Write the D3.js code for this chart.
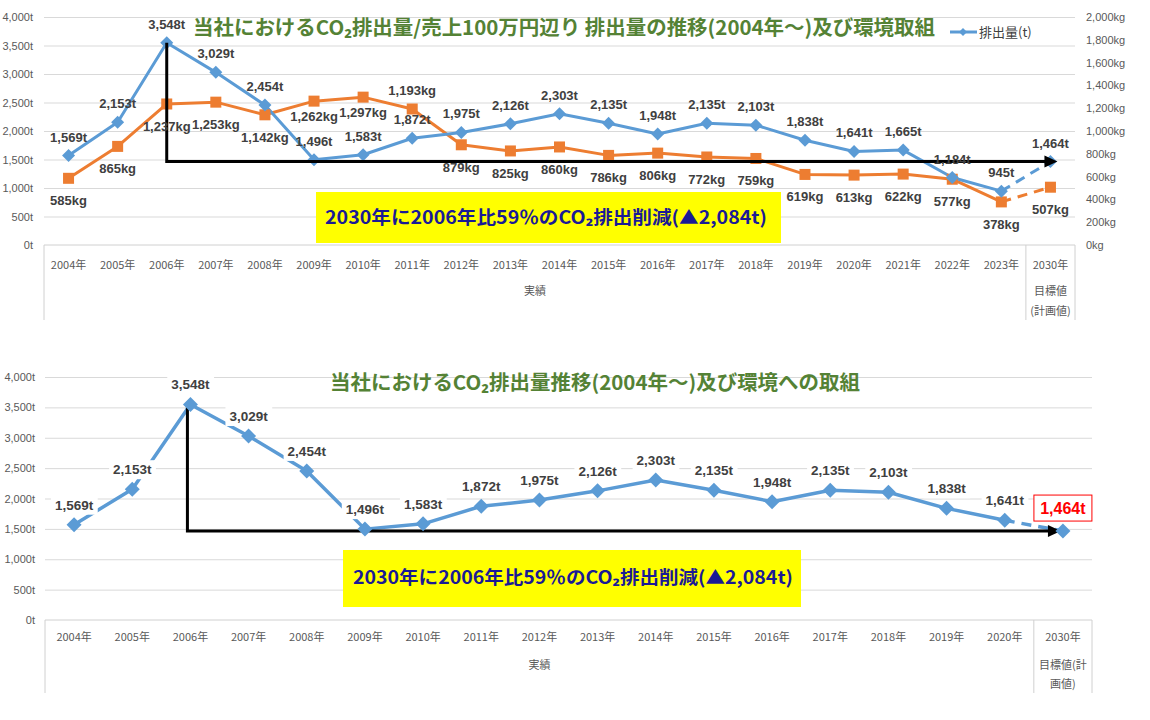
<!DOCTYPE html>
<html><head><meta charset="utf-8">
<script src="https://cdn.jsdelivr.net/npm/d3@7"></script>
<style>body{margin:0;background:#fff}svg{display:block}</style>
</head><body>
<svg id="c" width="1150" height="720"></svg>
<script>
// ---------- DATA ----------
const years1 = ["2004年","2005年","2006年","2007年","2008年","2009年","2010年","2011年","2012年","2013年","2014年","2015年","2016年","2017年","2018年","2019年","2020年","2021年","2022年","2023年","2030年"];
const emissions1 = [1569,2153,3548,3029,2454,1496,1583,1872,1975,2126,2303,2135,1948,2135,2103,1838,1641,1665,1184,945,1464];
const intensity1 = [585,865,1237,1253,1142,1262,1297,1193,879,825,860,786,806,772,759,619,613,622,577,378,507];
const years2 = ["2004年","2005年","2006年","2007年","2008年","2009年","2010年","2011年","2012年","2013年","2014年","2015年","2016年","2017年","2018年","2019年","2020年","2030年"];
const emissions2 = [1569,2153,3548,3029,2454,1496,1583,1872,1975,2126,2303,2135,1948,2135,2103,1838,1641,1464];
const ticksT = [0,500,1000,1500,2000,2500,3000,3500,4000];
const ticksKg = [0,200,400,600,800,1000,1200,1400,1600,1800,2000];
const title1 = "当社におけるCO₂排出量/売上100万円辺り 排出量の推移(2004年～)及び環境取組";
const title2 = "当社におけるCO₂排出量推移(2004年～)及び環境への取組";
const goalText = "2030年に2006年比59％のCO₂排出削減(▲2,084t)";
const legendText = "排出量(t)";
const groupActual = "実績";
const groupTarget1 = ["目標値","(計画値)"];
const groupTarget2 = ["目標値(計","画値)"];
const baseYearIdx = 2; // 2006年

// ---------- STYLE ----------
const JP = "'Noto Sans CJK JP','Noto Sans',sans-serif";
const NUM = "'Liberation Sans',Arial,sans-serif";
const BLUE = "#5b9bd5", ORANGE = "#ed7d31", GREEN = "#548235", GRID = "#d9d9d9", AX = "#595959", LBL = "#404040";
const fmt = d3.format(",");
const svg = d3.select("#c");
const diamond = s => `M0,${-s}L${s},0L0,${s}L${-s},0Z`;

function grid(g, y, ticks, L, R) {
  g.append("g").attr("transform", `translate(${L},0)`)
    .call(d3.axisLeft(y).tickValues(ticks).tickSize(-(R - L)).tickFormat(""))
    .call(a => a.select(".domain").remove())
    .selectAll("line").attr("stroke", GRID).attr("stroke-width", 1);
}
function yLabels(g, axis, pos, fmtf, ticks) {
  g.append("g").attr("transform", `translate(${pos},0)`)
    .call(axis.tickValues(ticks).tickSize(0).tickPadding(0).tickFormat(fmtf))
    .call(a => a.select(".domain").remove())
    .selectAll("text").attr("fill", AX).style("font-family", NUM).style("font-size", "11px");
}
function xBox(g, x, cats, B, boxBottom, labelY, sepIdx) {
  const ax = g.append("g").attr("transform", `translate(0,${B})`)
    .call(d3.axisBottom(x).tickSize(0).tickPadding(labelY - B - 8));
  ax.select(".domain").remove();
  ax.selectAll("text").attr("fill", AX).style("font-family", JP).style("font-size", "11px");
  const L = x.range()[0], R = x.range()[1];
  const sep = x(cats[sepIdx]);
  g.append("line").attr("x1", L).attr("x2", R).attr("y1", B).attr("y2", B).attr("stroke", "#d0d0d0");
  [L, sep, R].forEach(xx => g.append("line").attr("x1", xx).attr("x2", xx).attr("y1", B).attr("y2", boxBottom).attr("stroke", "#d0d0d0"));
  return sep;
}
function series(g, x, y, vals, cats, color, width, dash) {
  const n = vals.length;
  const line = d3.line().x((d, i) => x(cats[i]) + x.bandwidth() / 2).y(d => y(d));
  const pts = vals.map((v, i) => [cats[i], v]);
  g.append("path").datum(vals.slice(0, n - 1)).attr("d", d3.line().x((d, i) => x(cats[i]) + x.bandwidth() / 2).y(d => y(d)))
    .attr("fill", "none").attr("stroke", color).attr("stroke-width", width).attr("stroke-linejoin", "round");
  g.append("path").datum([vals[n - 2], vals[n - 1]])
    .attr("d", d3.line().x((d, i) => x(cats[n - 2 + i]) + x.bandwidth() / 2).y(d => y(d)))
    .attr("fill", "none").attr("stroke", color).attr("stroke-width", width).attr("stroke-dasharray", dash);
}
function arrow(g, x1, y1, y2, x2) {
  g.append("path").attr("d", `M${x1},${y1}V${y2}H${x2 - 11}`).attr("fill", "none").attr("stroke", "#000").attr("stroke-width", 3);
  g.append("path").attr("d", `M${x2},${y2}L${x2 - 13},${y2 - 6}L${x2 - 13},${y2 + 6}Z`).attr("fill", "#000");
}
function goalBox(g, x0, y0, x1, y1, tx, ty, tw) {
  g.append("rect").attr("x", x0).attr("y", y0).attr("width", x1 - x0).attr("height", y1 - y0).attr("fill", "#ffff00");
  g.append("text").attr("x", tx).attr("y", ty).attr("text-anchor", "middle")
    .attr("textLength", tw).attr("lengthAdjust", "spacingAndGlyphs")
    .style("font-family", JP).style("font-weight", "bold").style("font-size", "18px").attr("fill", "#1a1a96").text(goalText);
}

// ---------- TOP CHART ----------
(function () {
  const L = 44, R = 1075, T = 17, B = 245;
  const g = svg.append("g");
  const x = d3.scaleBand().domain(years1).range([L, R]);
  const y = d3.scaleLinear().domain([0, 4000]).range([B, T]);
  const y2 = d3.scaleLinear().domain([0, 2000]).range([B, T]);
  const cx = i => x(years1[i]) + x.bandwidth() / 2;
  grid(g, y, ticksT.filter(d => d > 0), L, R);
  yLabels(g, d3.axisLeft(y), 33, d => fmt(d) + "t", ticksT);
  yLabels(g, d3.axisRight(y2), 1086, d => fmt(d) + "kg", ticksKg);
  const sep = xBox(g, x, years1, B, 320, 269, years1.length - 1);
  g.append("text").attr("x", (L + sep) / 2).attr("y", 295).attr("text-anchor", "middle").attr("fill", AX)
    .style("font-family", JP).style("font-size", "11px").text(groupActual);
  groupTarget1.forEach((t, k) => g.append("text").attr("x", (sep + R) / 2).attr("y", 295 + k * 20).attr("text-anchor", "middle")
    .attr("fill", AX).style("font-family", JP).style("font-size", "11px").text(t));

  // title + legend
  g.append("text").attr("x", 564).attr("y", 35).attr("text-anchor", "middle").attr("textLength", 742).attr("lengthAdjust", "spacingAndGlyphs")
    .style("font-family", JP).style("font-weight", "bold").style("font-size", "20px").attr("fill", GREEN).text(title1);
  g.append("line").attr("x1", 950).attr("x2", 977).attr("y1", 32).attr("y2", 32).attr("stroke", BLUE).attr("stroke-width", 3);
  g.append("path").attr("d", diamond(4)).attr("transform", "translate(963,32)").attr("fill", BLUE);
  g.append("text").attr("x", 979).attr("y", 37).attr("fill", LBL).style("font-family", JP).style("font-size", "13px").text(legendText);

  series(g, x, y2, intensity1, years1, ORANGE, 3, "10,7");
  series(g, x, y, emissions1, years1, BLUE, 3, "10,7");

  // markers
  intensity1.forEach((v, i) => g.append("rect").attr("x", cx(i) - 5.5).attr("y", y2(v) - 5.5).attr("width", 11).attr("height", 11).attr("fill", ORANGE));
  emissions1.forEach((v, i) => g.append("path").attr("d", diamond(6.5)).attr("transform", `translate(${cx(i)},${y(v)})`).attr("fill", BLUE));

  // arrow
  const n = emissions1.length;
  arrow(g, cx(baseYearIdx), y(emissions1[baseYearIdx]), y(emissions1[n - 1]), cx(n - 1) + 7);

  goalBox(g, 316, 192, 781, 243, 546, 224, 442);

  // labels
  const lab = (t, xx, yy) => g.append("text").attr("x", xx).attr("y", yy).attr("text-anchor", "middle").attr("fill", LBL)
    .style("font-family", NUM).style("font-weight", "bold").style("font-size", "13px").text(t);
  emissions1.forEach((v, i) => lab(fmt(v) + "t", cx(i), y(v) - 14));
  intensity1.forEach((v, i) => {
    let off = 27;
    if (i === 7) off = -14;
    else if (i === 5 || i === 6) off = 20;
    lab(fmt(v) + "kg", cx(i), y2(v) + off);
  });
})();

// ---------- BOTTOM CHART ----------
(function () {
  const L = 45, R = 1092, T = 377, B = 620;
  const g = svg.append("g");
  const x = d3.scaleBand().domain(years2).range([L, R]);
  const y = d3.scaleLinear().domain([0, 4000]).range([B, T]);
  const cx = i => x(years2[i]) + x.bandwidth() / 2;
  grid(g, y, ticksT.filter(d => d > 0), L, R);
  yLabels(g, d3.axisLeft(y), 35, d => fmt(d) + "t", ticksT);
  const sep = xBox(g, x, years2, B, 693, 641, years2.length - 1);
  g.append("text").attr("x", (L + sep) / 2).attr("y", 669).attr("text-anchor", "middle").attr("fill", AX)
    .style("font-family", JP).style("font-size", "11px").text(groupActual);
  groupTarget2.forEach((t, k) => g.append("text").attr("x", (sep + R) / 2).attr("y", 669 + k * 19).attr("text-anchor", "middle")
    .attr("fill", AX).style("font-family", JP).style("font-size", "11px").text(t));

  g.append("text").attr("x", 595).attr("y", 390).attr("text-anchor", "middle").attr("textLength", 530).attr("lengthAdjust", "spacingAndGlyphs")
    .style("font-family", JP).style("font-weight", "bold").style("font-size", "20px").attr("fill", GREEN).text(title2);

  series(g, x, y, emissions2, years2, BLUE, 3.5, "10,7");
  const n = emissions2.length;
  arrow(g, cx(baseYearIdx) - 3, y(emissions2[baseYearIdx]), y(emissions2[n - 1]), cx(n - 1) - 2);
  emissions2.forEach((v, i) => g.append("path").attr("d", diamond(7.5)).attr("transform", `translate(${cx(i)},${y(v)})`).attr("fill", BLUE));

  goalBox(g, 343, 550, 801, 607, 573, 584, 440);

  emissions2.forEach((v, i) => {
    if (i === n - 1) return;
    const t = g.append("text").attr("x", cx(i)).attr("y", y(v) - 15).attr("text-anchor", "middle").attr("fill", LBL)
      .style("font-family", NUM).style("font-weight", "bold").style("font-size", "13.5px").text(fmt(v) + "t");
    const bb = t.node().getBBox();
    g.insert("rect", () => t.node()).attr("x", bb.x - 4).attr("y", bb.y - 2).attr("width", bb.width + 8).attr("height", bb.height + 4).attr("fill", "#fff");
  });
  // highlighted target label
  const v = emissions2[n - 1];
  g.append("rect").attr("x", cx(n - 1) - 29).attr("y", y(v) - 36).attr("width", 58).attr("height", 26).attr("fill", "#fff").attr("stroke", "#ff0000").attr("stroke-width", 1);
  g.append("text").attr("x", cx(n - 1)).attr("y", y(v) - 17).attr("text-anchor", "middle").attr("fill", "#ff0000")
    .style("font-family", NUM).style("font-weight", "bold").style("font-size", "16px").text(fmt(v) + "t");
})();
</script>
</body></html>
